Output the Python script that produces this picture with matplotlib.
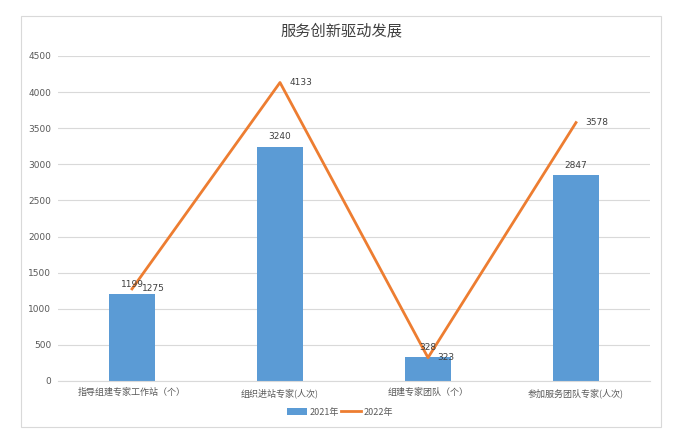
import matplotlib
matplotlib.use("Agg")
import matplotlib.pyplot as plt
from matplotlib.patches import Rectangle
import numpy as np

plt.rcParams['font.family'] = ['Noto Sans CJK SC', 'DejaVu Sans']

categories = ["指导组建专家工作站（个）", "组织进站专家(人次)", "组建专家团队（个）", "参加服务团队专家(人次)"]
values_2021 = [1199, 3240, 328, 2847]
values_2022 = [1275, 4133, 323, 3578]
series_names = ["2021年", "2022年"]
yticks = [0, 500, 1000, 1500, 2000, 2500, 3000, 3500, 4000, 4500]

bar_color = "#5b9bd5"
line_color = "#ed7d31"
text_color = "#595959"

fig = plt.figure(figsize=(6.77, 4.42), dpi=100)
fig.patches.append(Rectangle((21/677, 1-427/442), 640/677, 411/442, transform=fig.transFigure,
                             fill=False, edgecolor="#d9d9d9", linewidth=0.8, zorder=0))
ax = fig.add_axes([58/677, 1-381/442, 592/677, 325/442])

x = np.arange(len(categories))
bars = ax.bar(x, values_2021, width=0.31, color=bar_color, label=series_names[0], zorder=2)
line, = ax.plot(x, values_2022, color=line_color, linewidth=2, label=series_names[1], zorder=3)

for xi, v in zip(x, values_2021):
    ax.annotate(str(v), (xi, v), xytext=(0, 4), textcoords="offset points",
                ha="center", va="bottom", fontsize=6.5, color="#404040", family="DejaVu Sans")
for xi, v in zip(x, values_2022):
    ax.annotate(str(v), (xi, v), xytext=(7, 0), textcoords="offset points",
                ha="left", va="center", fontsize=6.5, color="#404040", family="DejaVu Sans")

ax.set_xlim(-0.5, len(categories) - 0.5)
ax.set_ylim(0, 4500)
ax.set_yticks(yticks)
ax.set_yticklabels([str(t) for t in yticks], fontsize=6.5, color=text_color, family="DejaVu Sans")
ax.set_xticks(x)
ax.set_xticklabels(categories, fontsize=6.5, color=text_color)
ax.tick_params(axis="both", length=0, pad=5)
ax.grid(axis="y", color="#d9d9d9", linewidth=0.8, zorder=0)
ax.set_axisbelow(True)
for s in ["top", "right", "left"]:
    ax.spines[s].set_visible(False)
ax.spines["bottom"].set_color("#d9d9d9")
ax.spines["bottom"].set_linewidth(0.8)

fig.text(341/677, 1-31/442, "服务创新驱动发展", ha="center", va="center", fontsize=11,
         color="#404040", fontweight="light")

leg = fig.legend([bars, line], series_names, loc="center", bbox_to_anchor=(340/677, 1-412/442), ncol=2,
                 frameon=False, fontsize=6.5, handlelength=2.2, handleheight=0.7, columnspacing=0.3,
                 handletextpad=0.3, labelcolor=text_color)

fig.savefig("out.png", dpi=100)
